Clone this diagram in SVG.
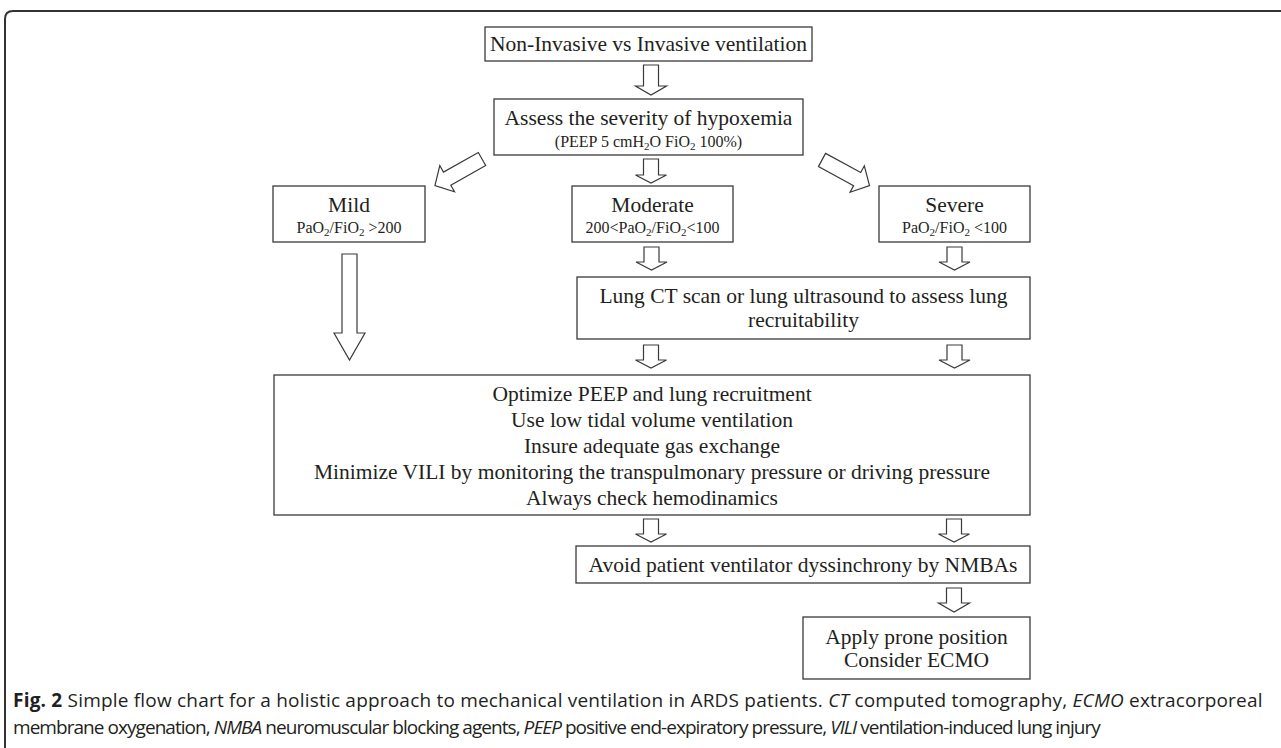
<svg xmlns="http://www.w3.org/2000/svg" width="1281" height="748" viewBox="0 0 1281 748">
<style>
.box{fill:#fff;stroke:#3a3a3a;stroke-width:1.3}
.arr{fill:#fff;stroke:#3a3a3a;stroke-width:1.2;stroke-linejoin:miter}
.t{font-family:"Liberation Serif","Times New Roman",serif;font-size:21.5px;fill:#231f20;text-anchor:middle}
.s{font-family:"Liberation Serif","Times New Roman",serif;font-size:16px;fill:#231f20;text-anchor:middle}
.sub{font-size:11px}
.cap{font-family:"Open Sans","Liberation Sans",sans-serif;font-size:19px;fill:#231f20}
.b{font-weight:bold}
.i{font-style:italic}
.frame{fill:none;stroke:#333;stroke-width:2}
</style>
<rect width="1281" height="748" fill="#fff"/>
<path class="frame" d="M5,748 V19 Q5,11 13,11 H1281"/>

<g id="connectors">
  <path class="arr" d="M643.5,65 H658.5 V86 H666.5 L651,95 L635.5,86 H643.5 Z"/>
  <path class="arr" d="M643.5,159 H658.5 V175 H666.5 L651,183 L635.5,175 H643.5 Z"/>
  <path class="arr" transform="translate(482,159) rotate(150.6)" d="M0,-7.5 H40 V-15 L54,0 L40,15 V7.5 H0 Z"/>
  <path class="arr" transform="translate(822,160) rotate(28.4)" d="M0,-7.5 H40 V-15 L54,0 L40,15 V7.5 H0 Z"/>
  <path class="arr" d="M342,254 H357 V333 H365 L349.5,360 L334,333 H342 Z"/>
  <path class="arr" d="M644,247 H659 V262 H667 L651.5,270 L636,262 H644 Z"/>
  <path class="arr" d="M947,247 H962 V262 H970 L954.5,270 L939,262 H947 Z"/>
  <path class="arr" d="M643.5,345 H658.5 V360 H666.5 L651,368 L635.5,360 H643.5 Z"/>
  <path class="arr" d="M947,345 H962 V360 H970 L954.5,368 L939,360 H947 Z"/>
  <path class="arr" d="M643.5,519 H658.5 V534 H666.5 L651,542 L635.5,534 H643.5 Z"/>
  <path class="arr" d="M946.5,519 H961.5 V534 H969.5 L954,542 L938.5,534 H946.5 Z"/>
  <path class="arr" d="M946.5,588 H961.5 V603 H969.5 L954,612 L938.5,603 H946.5 Z"/>
</g>

<g id="n1">
  <rect class="box" x="485" y="27" width="327" height="34"/>
  <text class="t" x="648.5" y="51">Non-Invasive vs Invasive ventilation</text>
</g>
<g id="n2">
  <rect class="box" x="494" y="99" width="309" height="56"/>
  <text class="t" x="648.5" y="125">Assess the severity of hypoxemia</text>
  <text class="s" x="648.5" y="147">(PEEP 5 cmH<tspan class="sub" dy="3">2</tspan><tspan dy="-3">O FiO</tspan><tspan class="sub" dy="3">2</tspan><tspan dy="-3"> 100%)</tspan></text>
</g>
<g id="n3">
  <rect class="box" x="273" y="186" width="152" height="56"/>
  <text class="t" x="349" y="212">Mild</text>
  <text class="s" x="349" y="233">PaO<tspan class="sub" dy="3">2</tspan><tspan dy="-3">/FiO</tspan><tspan class="sub" dy="3">2</tspan><tspan dy="-3"> &gt;200</tspan></text>
</g>
<g id="n4">
  <rect class="box" x="572" y="186" width="161" height="56"/>
  <text class="t" x="652.5" y="212">Moderate</text>
  <text class="s" x="652.5" y="233">200&lt;PaO<tspan class="sub" dy="3">2</tspan><tspan dy="-3">/FiO</tspan><tspan class="sub" dy="3">2</tspan><tspan dy="-3">&lt;100</tspan></text>
</g>
<g id="n5">
  <rect class="box" x="879" y="186" width="151" height="56"/>
  <text class="t" x="954.5" y="212">Severe</text>
  <text class="s" x="954.5" y="233">PaO<tspan class="sub" dy="3">2</tspan><tspan dy="-3">/FiO</tspan><tspan class="sub" dy="3">2</tspan><tspan dy="-3"> &lt;100</tspan></text>
</g>
<g id="n6">
  <rect class="box" x="577" y="277" width="453" height="62"/>
  <text class="t" x="803.5" y="303">Lung CT scan or lung ultrasound to assess lung</text>
  <text class="t" x="803.5" y="327">recruitability</text>
</g>
<g id="n7">
  <rect class="box" x="274" y="375" width="756" height="140"/>
  <text class="t" x="652" y="401">Optimize PEEP and lung recruitment</text>
  <text class="t" x="652" y="427">Use low tidal volume ventilation</text>
  <text class="t" x="652" y="453">Insure adequate gas exchange</text>
  <text class="t" x="652" y="479">Minimize VILI by monitoring the transpulmonary pressure or driving pressure</text>
  <text class="t" x="652" y="505">Always check hemodinamics</text>
</g>
<g id="n8">
  <rect class="box" x="576" y="546" width="454" height="37"/>
  <text class="t" x="803" y="572">Avoid patient ventilator dyssinchrony by NMBAs</text>
</g>
<g id="n9">
  <rect class="box" x="803" y="617" width="227" height="62"/>
  <text class="t" x="916.5" y="644">Apply prone position</text>
  <text class="t" x="916.5" y="667">Consider ECMO</text>
</g>

<g id="caption">
  <text class="cap" x="13" y="707" letter-spacing="0.2"><tspan class="b">Fig. 2</tspan> Simple flow chart for a holistic approach to mechanical ventilation in ARDS patients. <tspan class="i">CT</tspan> computed tomography, <tspan class="i">ECMO</tspan> extracorporeal</text>
  <text class="cap" x="13" y="734" letter-spacing="-0.95">membrane oxygenation, <tspan class="i">NMBA</tspan> neuromuscular blocking agents, <tspan class="i">PEEP</tspan> positive end-expiratory pressure, <tspan class="i">VILI</tspan> ventilation-induced lung injury</text>
</g>
</svg>
